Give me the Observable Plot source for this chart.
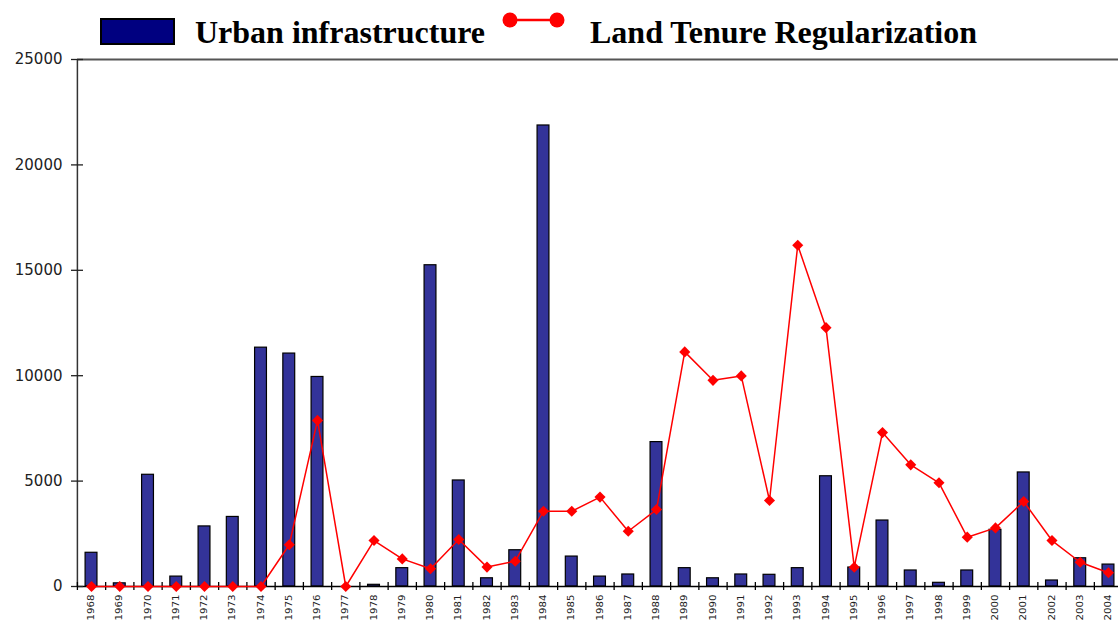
<!DOCTYPE html>
<html>
<head>
<meta charset="utf-8">
<script src="https://cdn.jsdelivr.net/npm/d3@7"></script>
<script src="https://cdn.jsdelivr.net/npm/@observablehq/plot@0.6"></script>
<style>
  html, body { margin: 0; padding: 0; background: #fff; overflow: hidden; width: 1118px; height: 623px; }
  #legend { display: block; }
  #chart svg { display: block; overflow: hidden; }
</style>
</head>
<body>
<svg id="legend" width="1118" height="50" xmlns="http://www.w3.org/2000/svg">
  <rect x="101" y="19" width="73" height="25" fill="#000080" stroke="#000" stroke-width="2"></rect>
  <text x="195" y="43" font-family="Liberation Serif, Times New Roman, serif" font-weight="bold" font-size="32" fill="#000">Urban infrastructure</text>
  <line x1="510" y1="20" x2="557" y2="20" stroke="#ff0000" stroke-width="2.5"></line>
  <circle cx="510" cy="20" r="7.5" fill="#ff0000"></circle>
  <circle cx="557" cy="20" r="7.5" fill="#ff0000"></circle>
  <text x="590" y="43" font-family="Liberation Serif, Times New Roman, serif" font-weight="bold" font-size="32" fill="#000">Land Tenure Regularization</text>
</svg>
<div id="chart"></div>
<script>
const years = [1968,1969,1970,1971,1972,1973,1974,1975,1976,1977,1978,1979,1980,1981,1982,1983,1984,1985,1986,1987,1988,1989,1990,1991,1992,1993,1994,1995,1996,1997,1998,1999,2000,2001,2002,2003,2004];
const urbanInfrastructure = [1600,150,5300,470,2850,3300,11330,11050,9940,0,80,870,15240,5030,390,1720,21870,1420,470,570,6850,870,390,570,555,870,5230,900,3130,760,175,760,2690,5410,285,1340,1040];
const landTenure = [0,0,0,0,0,0,0,1980,7880,0,2180,1310,840,2230,920,1200,3570,3570,4240,2620,3650,11130,9780,9990,4080,16190,12280,915,7300,5770,4920,2340,2780,4030,2180,1150,650];
const yTicks = [0,5000,10000,15000,20000,25000];

const data = years.map((year, i) => ({year, urban: urbanInfrastructure[i], land: landTenure[i]}));
const xDomain = [years[0] - 0.5, years[years.length - 1] + 0.5];
const boundaries = [years[0] - 0.5, ...years.map(y => y + 0.5)];
const halfBar = 0.21;

const chart = Plot.plot({
  width: 1118,
  height: 573,
  marginTop: 9,
  marginBottom: 37,
  marginLeft: 77,
  marginRight: 0,
  style: {background: "#fff", fontFamily: "DejaVu Sans, sans-serif"},
  x: {type: "linear", domain: xDomain, range: [76.9, 1122.1], label: null},
  y: {domain: [yTicks[0], yTicks[yTicks.length - 1]], label: null},
  marks: [
    Plot.rectY(data, {x1: d => d.year - halfBar, x2: d => d.year + halfBar, y: "urban", fill: "#333399", stroke: "#000", strokeWidth: 1.2}),
    Plot.ruleY([yTicks[yTicks.length - 1]], {stroke: "#555", strokeWidth: 2}),
    Plot.ruleX([xDomain[0]], {y1: yTicks[0], y2: yTicks[yTicks.length - 1], stroke: "#333", strokeWidth: 1.5}),
    Plot.ruleY([0], {stroke: "#000", strokeWidth: 1.5}),
    Plot.axisY({ticks: yTicks, tickSize: 12, dx: 6, tickPadding: 9, fontSize: 15, label: null, tickFormat: d => String(d), stroke: "#222", strokeWidth: 1.3, color: "#222"}),
    Plot.axisX({ticks: boundaries, tickSize: 8, dy: -4, label: null, tickFormat: () => "", stroke: "#000", strokeWidth: 1.3}),
    Plot.axisX({ticks: years, tickSize: 0, tickPadding: 8, tickRotate: -90, fontSize: 8, label: null, tickFormat: d => String(d), color: "#222"}),
    Plot.lineY(data, {x: "year", y: "land", stroke: "#ff0000", strokeWidth: 1.5}),
    Plot.dot(data, {x: "year", y: "land", symbol: "diamond2", r: 5, fill: "#ff0000", stroke: "none"})
  ]
});
document.getElementById("chart").appendChild(chart);
chart.querySelectorAll('g[aria-label="x-axis tick label"] text').forEach(t => {
  t.setAttribute("textLength", "26");
  t.setAttribute("lengthAdjust", "spacingAndGlyphs");
});
</script>
</body>
</html>
